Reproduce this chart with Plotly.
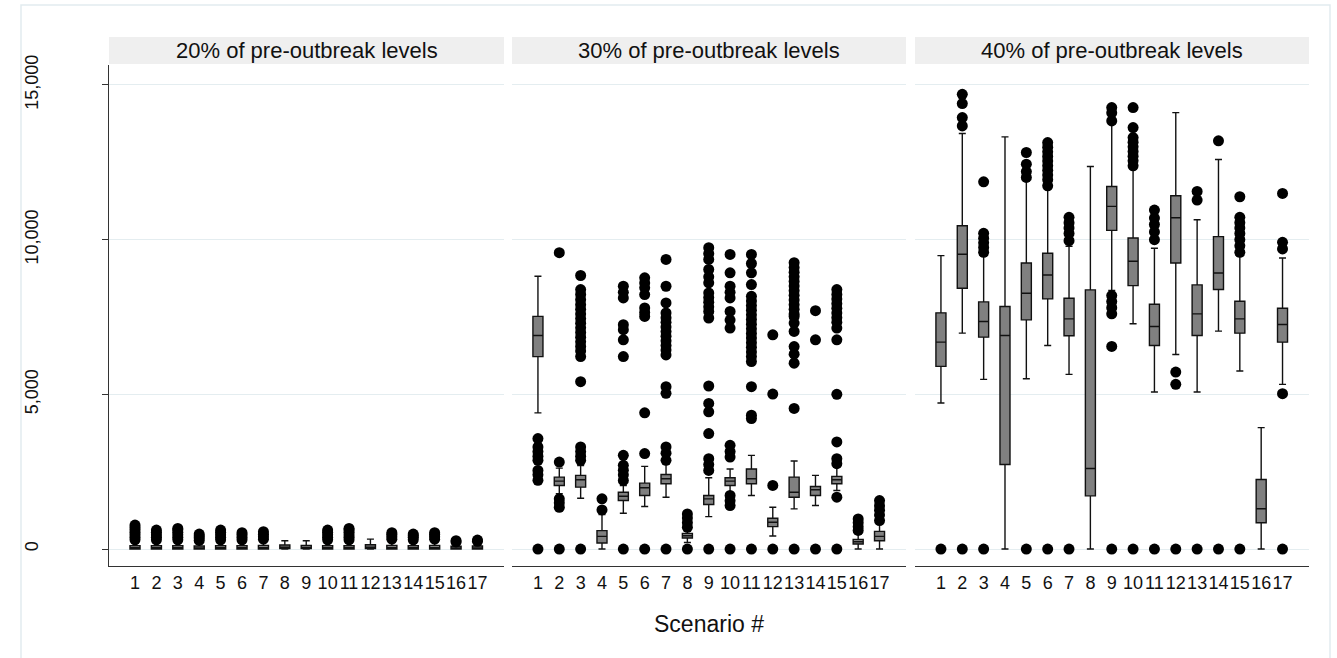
import plotly.graph_objects as go

scenarios = list(range(1, 18))
tick_labels = [str(s) for s in scenarios]
panel_titles = ["20% of pre-outbreak levels", "30% of pre-outbreak levels", "40% of pre-outbreak levels"]
y_ticks = [0, 5000, 10000, 15000]
y_tick_labels = ["0", "5,000", "10,000", "15,000"]
x_title = "Scenario #"

# ---- 20% of pre-outbreak levels ----
p20_q1 = [0, 0, 0, 0, 0, 0, 0, 20, 15, 0, 0, 20, 0, 0, 0, 0, 0]
p20_med = [40, 40, 40, 35, 40, 40, 45, 60, 55, 40, 40, 60, 45, 40, 45, 30, 30]
p20_q3 = [110, 110, 110, 100, 110, 110, 120, 130, 120, 110, 110, 140, 120, 110, 120, 90, 100]
p20_lo = [0] * 17
p20_hi = [260, 250, 260, 230, 250, 250, 270, 268, 268, 260, 260, 322, 270, 250, 270, 200, 220]
p20_out = [
    [300, 380, 460, 540, 620, 700, 774],
    [300, 380, 460, 540, 613],
    [300, 380, 460, 540, 620, 667],
    [280, 360, 420, 484],
    [300, 380, 460, 540, 613],
    [300, 380, 460, 527],
    [320, 400, 480, 559],
    [],
    [],
    [300, 380, 460, 540, 613],
    [300, 380, 460, 540, 620, 667],
    [],
    [320, 400, 470, 527],
    [300, 380, 430, 484],
    [320, 400, 470, 527],
    [230, 269],
    [250, 290],
]

# ---- 30% of pre-outbreak levels ----
p30_q1 = [6221, 2055, 2000, 195, 1568, 1731, 2110, 357, 1438, 2055, 2110, 724, 1676, 1731, 2110, 162, 270]
p30_med = [6903, 2195, 2240, 409, 1708, 1981, 2273, 432, 1623, 2195, 2273, 864, 1838, 1916, 2240, 237, 409]
p30_q3 = [7520, 2325, 2380, 594, 1838, 2130, 2412, 507, 1731, 2305, 2585, 994, 2325, 2023, 2348, 312, 571]
p30_lo = [4403, 1786, 1643, 0, 1156, 1373, 1676, 214, 1049, 1763, 1731, 422, 1299, 1406, 1893, 0, 0]
p30_hi = [8819, 2617, 2700, 1114, 2055, 2672, 2812, 594, 2305, 2585, 3029, 1351, 2845, 2380, 2650, 487, 864]
p30_out = [
    [3572, 3300, 3150, 3000, 2870, 2540, 2400, 2220, 0],
    [9579, 2812, 1624, 1500, 1351, 0],
    [8842, 8387, 8230, 8062, 7900, 7750, 7600, 7450, 7300, 7150, 7000, 6850, 6700, 6550, 6400, 6221, 5410, 3299, 3150, 3000, 2867, 0],
    [1624, 1266],
    [8494, 8300, 8117, 7250, 7090, 6764, 6221, 3029, 2705, 2550, 2400, 2218, 0],
    [8767, 8600, 8442, 8225, 7793, 7650, 7520, 4403, 3085, 0],
    [9361, 8494, 7955, 7630, 7480, 7330, 7180, 7030, 6880, 6730, 6580, 6430, 6276, 5247, 5033, 3299, 3100, 2867, 0],
    [1136, 1000, 850, 701, 0],
    [9741, 9550, 9361, 9036, 8800, 8604, 8280, 8130, 7980, 7830, 7680, 7468, 5270, 4708, 4435, 3734, 2922, 2730, 2542, 0],
    [9523, 8929, 8494, 8300, 8117, 7682, 7400, 7143, 3354, 3150, 2974, 1731, 1560, 1406, 0],
    [9523, 9230, 8929, 8549, 8170, 8020, 7870, 7720, 7570, 7420, 7270, 7120, 6970, 6820, 6670, 6520, 6370, 6220, 6059, 5247, 4328, 4218, 0],
    [6926, 5010, 2055, 0],
    [9254, 9100, 8950, 8800, 8650, 8500, 8350, 8200, 8050, 7900, 7750, 7600, 7520, 7306, 7033, 6546, 6300, 6007, 4546, 0],
    [7705, 6764, 0],
    [8387, 8230, 8080, 7930, 7780, 7630, 7480, 7330, 7143, 6764, 5000, 3461, 2922, 2760, 1676, 0],
    [974, 850, 720, 600],
    [1568, 1400, 1250, 1100, 919],
]

# ---- 40% of pre-outbreak levels ----
p40_q1 = [5903, 8430, 6850, 2731, 7409, 8086, 6893, 1720, 10301, 8516, 6581, 9248, 6903, 8387, 6979, 849, 6688]
p40_med = [6688, 9527, 7355, 6903, 8269, 8860, 7441, 2602, 11076, 9301, 7194, 10710, 7602, 8925, 7441, 1301, 7258]
p40_q3 = [7635, 10452, 7989, 7839, 9248, 9559, 8108, 8377, 11721, 10054, 7914, 11420, 8538, 10097, 8011, 2247, 7785]
p40_lo = [4721, 6979, 5484, 0, 5505, 6581, 5645, 0, 8355, 7280, 5075, 6290, 5075, 7043, 5753, 0, 5323]
p40_hi = [9484, 13430, 9538, 13323, 11903, 11635, 9785, 12366, 13731, 12366, 9721, 14108, 10645, 12592, 9484, 3925, 9409]
p40_out = [
    [0],
    [14699, 14398, 13947, 13678, 0],
    [11871, 10205, 10050, 9900, 9750, 9592, 0],
    [],
    [12818, 12441, 12200, 12011, 0],
    [13140, 12990, 12840, 12690, 12540, 12390, 12240, 12090, 11940, 11742, 0],
    [10721, 10550, 10380, 10200, 9968, 0],
    [],
    [14269, 14100, 13839, 8194, 8000, 7800, 7602, 6549, 0],
    [14269, 13624, 13301, 13150, 13000, 12850, 12700, 12550, 12388, 0],
    [10957, 10700, 10490, 10250, 10000, 0],
    [5721, 5323, 0],
    [11559, 11280, 0],
    [13194, 0],
    [11387, 10721, 10550, 10380, 10200, 10000, 9800, 9592, 0],
    [],
    [11495, 9914, 9699, 5022, 0],
]

panels = [
    (p20_q1, p20_med, p20_q3, p20_lo, p20_hi, p20_out),
    (p30_q1, p30_med, p30_q3, p30_lo, p30_hi, p30_out),
    (p40_q1, p40_med, p40_q3, p40_lo, p40_hi, p40_out),
]

FONT = "Liberation Sans, Arial, Helvetica, sans-serif"
GRID = "#e4edf0"
AXIS = "#333333"
INK = "#111111"

fig = go.Figure()
axis_ids = ["", "2", "3"]
for i, (q1, med, q3, lo, hi, out) in enumerate(panels):
    xa = "x" + axis_ids[i]
    ya = "y" + axis_ids[i]
    fig.add_trace(go.Box(
        x=scenarios, q1=q1, median=med, q3=q3, lowerfence=lo, upperfence=hi,
        boxpoints=False, width=0.47, whiskerwidth=0.7,
        fillcolor="#808080", line=dict(color=INK, width=1.4),
        xaxis=xa, yaxis=ya, showlegend=False, hoverinfo="skip",
    ))
    ox = [s for s, vals in zip(scenarios, out) for v in vals]
    oy = [v for vals in out for v in vals]
    fig.add_trace(go.Scatter(
        x=ox, y=oy, mode="markers",
        marker=dict(color="black", size=11, line=dict(width=0)),
        xaxis=xa, yaxis=ya, showlegend=False, hoverinfo="skip",
    ))

W, H = 1337, 658
ml, mr, mt, mb = 109, 28, 65, 92
pw = W - ml - mr
ph = H - mt - mb
domains = [
    [0, 395 / pw],
    [(512 - ml) / pw, (906 - ml) / pw],
    [(915 - ml) / pw, 1.0],
]
x_range = [-0.215, 18.24]
y_range = [-548, 15646]

layout = dict(
    width=W, height=H,
    margin=dict(l=ml, r=mr, t=mt, b=mb),
    paper_bgcolor="white", plot_bgcolor="white",
    font=dict(family=FONT, color=INK, size=18),
    showlegend=False,
)
for i in range(3):
    sfx = axis_ids[i]
    layout["xaxis" + sfx] = dict(
        domain=domains[i], range=x_range, anchor="y" + sfx,
        tickmode="array", tickvals=scenarios, ticktext=tick_labels, tickangle=0,
        ticks="", showgrid=False, zeroline=False,
        showline=True, linecolor=AXIS, linewidth=1,
        tickfont=dict(size=18, family=FONT, color=INK),
    )
    layout["yaxis" + sfx] = dict(
        domain=[0, 1], range=y_range, anchor="x" + sfx,
        tickmode="array", tickvals=y_ticks, ticktext=y_tick_labels,
        showgrid=True, gridcolor=GRID, gridwidth=1, zeroline=False,
        showline=(i == 0), linecolor=AXIS, linewidth=1,
        ticks="outside" if i == 0 else "", ticklen=6, tickcolor=AXIS,
        showticklabels=(i == 0), tickangle=-90,
        tickfont=dict(size=18, family=FONT, color=INK),
    )
    if i > 0:
        layout["yaxis" + sfx]["matches"] = "y"
layout["yaxis"]["ticklabelstandoff"] = 57
layout["xaxis2"]["title"] = dict(text=x_title, font=dict(size=23, family=FONT, color=INK), standoff=24)


def py(px):
    # paper y fraction of a pixel row (measured from top of page)
    return (H - mb - px) / ph


shapes = []
annotations = []
for i in range(3):
    sfx = axis_ids[i]
    shapes.append(dict(
        type="rect", xref="x" + sfx + " domain", yref="paper",
        x0=0, x1=1, y0=py(64), y1=py(37),
        fillcolor="#efefef", line=dict(width=0), layer="below",
    ))
    annotations.append(dict(
        text=panel_titles[i], xref="x" + sfx + " domain", yref="paper",
        x=0.5, y=py(50.5), xanchor="center", yanchor="middle",
        showarrow=False, font=dict(size=22, family=FONT, color=INK),
    ))
# outer graph-region frame
shapes.append(dict(
    type="rect", xref="paper", yref="paper",
    x0=(21 - ml) / pw, x1=(1330 - ml) / pw,
    y0=py(720), y1=py(5),
    line=dict(color="#e2ebef", width=1.5), fillcolor="rgba(0,0,0,0)", layer="below",
))
layout["shapes"] = shapes
layout["annotations"] = annotations

fig.update_layout(**layout)
fig.write_html(
    "out.html",
    config={"displayModeBar": False},
    post_script="document.body.style.margin='0';document.body.style.overflow='hidden';",
)
